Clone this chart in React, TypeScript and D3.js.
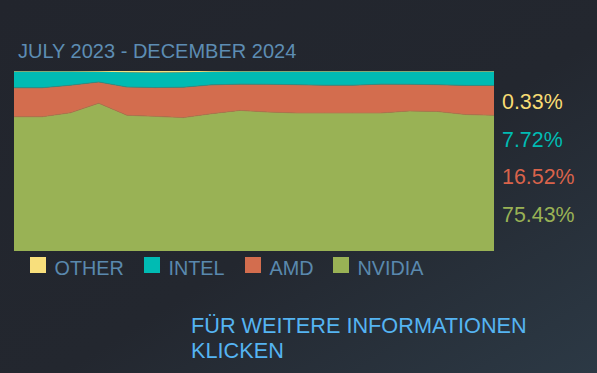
import React from "react";
import * as d3 from "d3";

const months = [
  "2023-07", "2023-08", "2023-09", "2023-10", "2023-11", "2023-12",
  "2024-01", "2024-02", "2024-03", "2024-04", "2024-05", "2024-06",
  "2024-07", "2024-08", "2024-09", "2024-10", "2024-11", "2024-12",
];
const nvidia = [74.6, 74.6, 76.8, 82.1, 75.4, 74.8, 74.1, 76.3, 78.1, 77.2, 76.7, 76.7, 76.7, 76.7, 77.8, 77.5, 75.8, 75.43];
const amd = [16.1, 16.1, 15.3, 11.8, 15.7, 16.0, 16.9, 16.0, 14.6, 15.4, 15.7, 15.4, 15.4, 16.0, 14.8, 14.9, 16.2, 16.52];
const other = [0.3, 0.3, 0.3, 0.4, 0.7, 0.8, 0.7, 0.4, 0.3, 0.3, 0.3, 0.3, 0.3, 0.3, 0.3, 0.3, 0.3, 0.33];
const intel = nvidia.map((v, i) => +(100 - v - amd[i] - other[i]).toFixed(2));

const seriesNames = ["NVIDIA", "AMD", "INTEL", "OTHER"];
const seriesColors: Record<string, string> = {
  NVIDIA: "#99b255",
  AMD: "#d36d4e",
  INTEL: "#00bbb3",
  OTHER: "#f8df7c",
};
const edgeColors: Record<string, string> = {
  NVIDIA: "#b07850",
  AMD: "#3a8c80",
  INTEL: "#c8b870",
  OTHER: "#f8df7c",
};
const legendOrder = ["OTHER", "INTEL", "AMD", "NVIDIA"];
const rightLabels = [
  { text: "0.33%", key: "OTHER", color: "#f8dc74" },
  { text: "7.72%", key: "INTEL", color: "#00bbb3" },
  { text: "16.52%", key: "AMD", color: "#d9634b" },
  { text: "75.43%", key: "NVIDIA", color: "#99b255" },
];
const title = "JULY 2023 - DECEMBER 2024";
const linkLines = ["FÜR WEITERE INFORMATIONEN", "KLICKEN"];

const W = 597;
const H = 373;
const font = "'Liberation Sans', Arial, sans-serif";

export default function App() {
  const rows = months.map((m, i) => ({
    month: m,
    NVIDIA: nvidia[i],
    AMD: amd[i],
    INTEL: intel[i],
    OTHER: other[i],
  }));
  const stack = d3.stack<any>().keys(seriesNames);
  const layers = stack(rows);

  const x = d3.scaleLinear().domain([0, months.length - 1]).range([14, 494]);
  const y = d3.scaleLinear().domain([0, 100]).range([251, 71]);

  const area = d3
    .area<any>()
    .x((_d, i) => x(i))
    .y0((d) => y(d[0]))
    .y1((d) => y(d[1]))
    .curve(d3.curveLinear);
  const topLine = d3
    .line<any>()
    .x((_d, i) => x(i))
    .y((d) => y(d[1]))
    .curve(d3.curveLinear);

  const legendX = [30, 144, 245, 333];

  return (
    <svg
      width={W}
      height={H}
      style={{ position: "absolute", left: 0, top: 0, display: "block" }}
    >
      <defs>
        <linearGradient id="bg" x1="0" y1="0" x2="1" y2="1">
          <stop offset="0%" stopColor="#22252d" />
          <stop offset="55%" stopColor="#23272f" />
          <stop offset="100%" stopColor="#2c3945" />
        </linearGradient>
      </defs>
      <rect x={0} y={0} width={W} height={H} fill="url(#bg)" />
      <text x={18} y={58} fill="#5d8db3" fontFamily={font} fontSize={20}>
        {title}
      </text>
      <g>
        {layers.map((layer) => (
          <path key={layer.key} d={area(layer) || ""} fill={seriesColors[layer.key]} />
        ))}
        {layers.slice(0, 2).map((layer) => (
          <path
            key={"l" + layer.key}
            d={topLine(layer) || ""}
            fill="none"
            stroke={edgeColors[layer.key]}
            strokeWidth={1}
            strokeOpacity={0.8}
          />
        ))}
      </g>
      {rightLabels.map((l, i) => (
        <text
          key={l.key}
          x={502}
          y={109 + i * 37.6}
          fill={l.color}
          fontFamily={font}
          fontSize={21.4}
        >
          {l.text}
        </text>
      ))}
      {legendOrder.map((k, i) => (
        <g key={k}>
          <rect x={legendX[i]} y={257} width={16} height={16} fill={seriesColors[k]} />
          <text x={legendX[i] + 24.5} y={275} fill="#5a89ae" fontFamily={font} fontSize={19.8}>
            {k}
          </text>
        </g>
      ))}
      {linkLines.map((t, i) => (
        <text
          key={t}
          x={191}
          y={332.7 + i * 25.6}
          fill="#55b4f2"
          fontFamily={font}
          fontSize={21.7}
        >
          {t}
        </text>
      ))}
    </svg>
  );
}
